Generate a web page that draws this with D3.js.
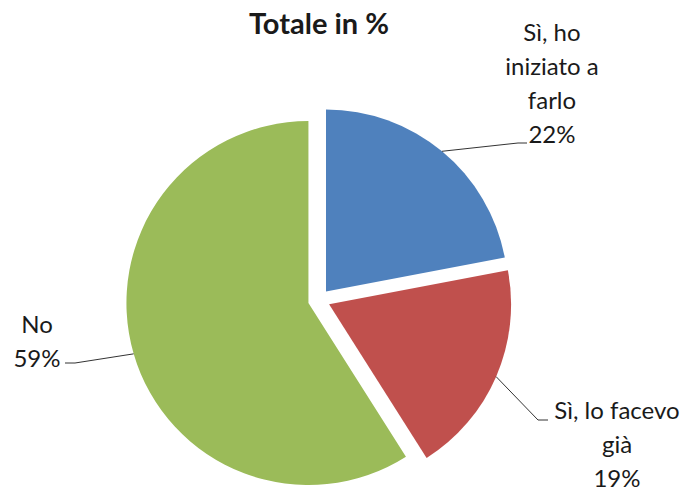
<!DOCTYPE html>
<html>
<head>
<meta charset="utf-8">
<script src="https://cdn.jsdelivr.net/npm/d3@7"></script>
<style>
  html, body { margin: 0; padding: 0; background: #fff; }
  svg { display: block; }
  text { font-family: Lato, "Open Sans", sans-serif; fill: #1a1a1a; }
</style>
</head>
<body>
<svg id="chart" width="693" height="490"></svg>
<script>
const title = "Totale in %";
const categories = ["Sì, ho iniziato a farlo", "Sì, lo facevo già", "No"];
const values = [22, 19, 59];
const labelLines = [["Sì, ho", "iniziato a", "farlo", "22%"], ["Sì, lo facevo", "già", "19%"], ["No", "59%"]];
const colors = ["#4F81BD", "#C0504D", "#9BBB59"];

const W = 693, H = 490;
const cx = 319, cy = 300, R = 182, explode = 11;
const fontSize = 24, lineH = 34;

// label layout: anchor (center x, first line center y), leader end points
const labelLayout = [
  { x: 552, y: 31, elbow: [518, 143], end: [527, 143] },
  { x: 617, y: 409, elbow: [538, 420], end: [548, 420] },
  { x: 37, y: 323, elbow: [75, 363], end: [65, 363] }
];

const svg = d3.select("#chart");

svg.append("text")
  .attr("x", cx).attr("y", 22)
  .attr("text-anchor", "middle").attr("dominant-baseline", "central")
  .style("font-weight", "bold").style("font-size", "29px")
  .text(title);

const pie = d3.pie().sort(null).value(d => d)(values);
const arc = d3.arc().innerRadius(0).outerRadius(R);

const g = svg.append("g").attr("transform", `translate(${cx},${cy})`);

pie.forEach((p, i) => {
  const mid = (p.startAngle + p.endAngle) / 2;
  const ox = explode * Math.sin(mid), oy = -explode * Math.cos(mid);
  g.append("path")
    .attr("d", arc(p))
    .attr("transform", `translate(${ox},${oy})`)
    .attr("fill", colors[i]);

  // leader line from outer edge along bisector
  const sx = cx + ox + R * Math.sin(mid), sy = cy + oy - R * Math.cos(mid);
  const L = labelLayout[i];
  svg.append("polyline")
    .attr("points", [[sx, sy], L.elbow, L.end].map(p => p.join(",")).join(" "))
    .attr("fill", "none").attr("stroke", "#333").attr("stroke-width", 1);

  const t = svg.append("text")
    .attr("text-anchor", "middle")
    .style("font-size", fontSize + "px");
  labelLines[i].forEach((line, j) => {
    t.append("tspan")
      .attr("x", L.x).attr("y", L.y + j * lineH)
      .attr("dominant-baseline", "central")
      .text(line);
  });
});
</script>
</body>
</html>
